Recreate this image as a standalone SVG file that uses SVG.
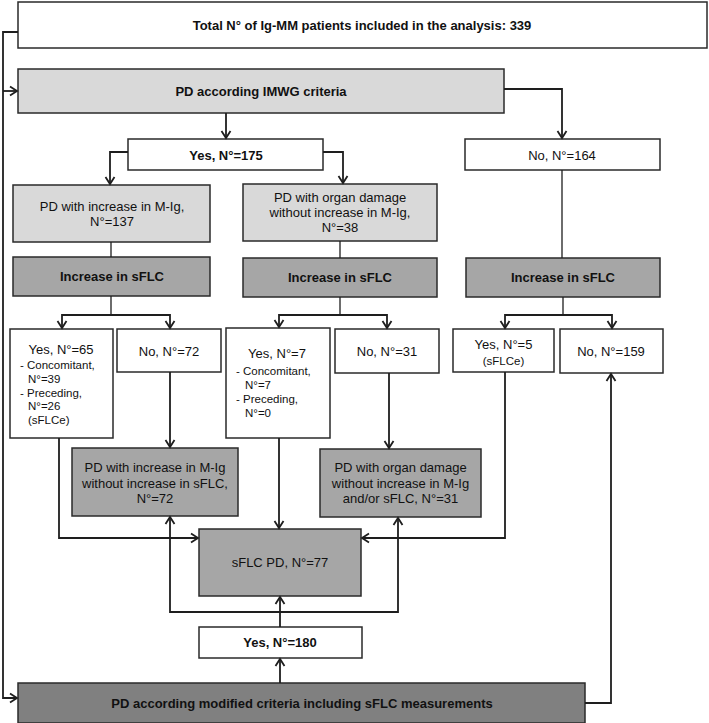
<svg xmlns="http://www.w3.org/2000/svg" width="709" height="723" viewBox="0 0 709 723">
<style>
  .box { stroke: #2a2a2a; stroke-width: 1.5; }
  .w { fill: #ffffff; }
  .l { fill: #d9d9d9; }
  .m { fill: #a6a6a6; }
  .d { fill: #808080; }
  text { font-family: "Liberation Sans", Arial, sans-serif; font-size: 13px; fill: #111; }
  .b { font-weight: bold; }
  .c { text-anchor: middle; }
  .s { font-size: 11.5px; }
  .conn path { fill: none; stroke: #1e1e1e; stroke-width: 1.8; }
  .conn path.thin { stroke-width: 1.3; }
</style>
<defs>
  <marker id="arr" markerUnits="userSpaceOnUse" markerWidth="14" markerHeight="14" viewBox="-10 -7 12 14" refX="0" refY="0" orient="auto">
    <path d="M-7,-4.5 L0,0 L-7,4.5" fill="none" stroke="#1e1e1e" stroke-width="1.8"/>
  </marker>
</defs>

<g id="total">
  <rect class="box w" x="18" y="2" width="689" height="46"/>
  <text class="b c" x="362" y="30">Total N° of Ig-MM patients included in the analysis: 339</text>
</g>
<g id="imwg">
  <rect class="box l" x="18" y="69" width="486" height="44"/>
  <text class="b c" x="261" y="96">PD according IMWG criteria</text>
</g>
<g id="yes175">
  <rect class="box w" x="128" y="139" width="195" height="31"/>
  <text class="b c" x="226" y="159.5">Yes, N°=175</text>
</g>
<g id="no164">
  <rect class="box w" x="465" y="139" width="195" height="31"/>
  <text class="c" x="562" y="159.5">No, N°=164</text>
</g>
<g id="pdmig">
  <rect class="box l" x="13" y="185" width="197" height="57"/>
  <text class="c" x="112" y="211">PD with increase in M-Ig,</text>
  <text class="c" x="112" y="226">N°=137</text>
</g>
<g id="pdorgan">
  <rect class="box l" x="243" y="184" width="194" height="57"/>
  <text class="c" x="340" y="202">PD with organ damage</text>
  <text class="c" x="340" y="217">without increase in M-Ig,</text>
  <text class="c" x="340" y="232">N°=38</text>
</g>
<g id="inc1">
  <rect class="box m" x="13" y="257" width="197" height="39"/>
  <text class="b c" x="112" y="281">Increase in sFLC</text>
</g>
<g id="inc2">
  <rect class="box m" x="243" y="258" width="194" height="39"/>
  <text class="b c" x="340" y="282">Increase in sFLC</text>
</g>
<g id="inc3">
  <rect class="box m" x="466" y="258" width="194" height="39"/>
  <text class="b c" x="563" y="282">Increase in sFLC</text>
</g>
<g id="yes65">
  <rect class="box w" x="10" y="329" width="103" height="109"/>
  <text class="c" x="61" y="354">Yes, N°=65</text>
  <text class="s" x="20" y="369">- Concomitant,</text>
  <text class="s" x="28" y="382.5">N°=39</text>
  <text class="s" x="20" y="396.5">- Preceding,</text>
  <text class="s" x="28" y="410">N°=26</text>
  <text class="s" x="28" y="424">(sFLCe)</text>
</g>
<g id="no72">
  <rect class="box w" x="117" y="329" width="104" height="43"/>
  <text class="c" x="169" y="356">No, N°=72</text>
</g>
<g id="yes7">
  <rect class="box w" x="226" y="328" width="104" height="110"/>
  <text class="c" x="277" y="358">Yes, N°=7</text>
  <text class="s" x="236" y="375">- Concomitant,</text>
  <text class="s" x="245" y="388.5">N°=7</text>
  <text class="s" x="236" y="403">- Preceding,</text>
  <text class="s" x="245" y="417">N°=0</text>
</g>
<g id="no31">
  <rect class="box w" x="335" y="329" width="104" height="44"/>
  <text class="c" x="387" y="356">No, N°=31</text>
</g>
<g id="yes5">
  <rect class="box w" x="453" y="329" width="101" height="43"/>
  <text class="c" x="503.5" y="349">Yes, N°=5</text>
  <text class="c s" x="503.5" y="365">(sFLCe)</text>
</g>
<g id="no159">
  <rect class="box w" x="560" y="329" width="103" height="44"/>
  <text class="c" x="611" y="356">No, N°=159</text>
</g>
<g id="pdmig2">
  <rect class="box m" x="72" y="448" width="166" height="68"/>
  <text class="c" x="155" y="472">PD with increase in M-Ig</text>
  <text class="c" x="155" y="487.5">without increase in sFLC,</text>
  <text class="c" x="155" y="503">N°=72</text>
</g>
<g id="pdorgan2">
  <rect class="box m" x="320" y="449" width="161" height="68"/>
  <text class="c" x="400.5" y="472">PD with organ damage</text>
  <text class="c" x="400.5" y="487.5">without increase in M-Ig</text>
  <text class="c" x="400.5" y="503">and/or sFLC, N°=31</text>
</g>
<g id="sflcpd">
  <rect class="box m" x="199" y="529" width="162" height="67"/>
  <text class="c" x="280" y="567">sFLC PD, N°=77</text>
</g>
<g id="yes180">
  <rect class="box w" x="199" y="627" width="163" height="31"/>
  <text class="b c" x="280" y="647">Yes, N°=180</text>
</g>
<g id="modified">
  <rect class="box d" x="18" y="683" width="567" height="40"/>
  <text class="b c" x="302" y="708">PD according modified criteria including sFLC measurements</text>
</g>

<g id="connectors" class="conn">
  <path d="M18,32 H3 V698 H17" marker-end="url(#arr)"/>
  <path d="M3,91 H17" marker-end="url(#arr)"/>
  <path d="M226,113 V138" marker-end="url(#arr)"/>
  <path d="M504,89 H562 V138" marker-end="url(#arr)"/>
  <path d="M128,152 H110 V184" marker-end="url(#arr)"/>
  <path d="M323,152 H343 V183" marker-end="url(#arr)"/>
  <path class="thin" d="M111,242 V257"/>
  <path class="thin" d="M340,241 V258"/>
  <path class="thin" d="M562,170 V258"/>
  <path class="thin" d="M111,296 V315"/>
  <path d="M111,315 H62 V328" marker-end="url(#arr)"/>
  <path d="M111,315 H170 V328" marker-end="url(#arr)"/>
  <path class="thin" d="M340,297 V315"/>
  <path d="M340,315 H279 V327" marker-end="url(#arr)"/>
  <path d="M340,315 H387 V328" marker-end="url(#arr)"/>
  <path class="thin" d="M563,297 V315"/>
  <path d="M563,315 H505 V328" marker-end="url(#arr)"/>
  <path d="M563,315 H612 V328" marker-end="url(#arr)"/>
  <path d="M170,372 V447" marker-end="url(#arr)"/>
  <path d="M389,373 V448" marker-end="url(#arr)"/>
  <path d="M59,438 V538 H198" marker-end="url(#arr)"/>
  <path d="M279,438 V528" marker-end="url(#arr)"/>
  <path d="M505,372 V538 H362" marker-end="url(#arr)"/>
  <path d="M280,683 V659" marker-end="url(#arr)"/>
  <path d="M280,627 V597" marker-end="url(#arr)"/>
  <path d="M280,612 H170 V517" marker-end="url(#arr)"/>
  <path d="M280,612 H398 V518" marker-end="url(#arr)"/>
  <path d="M585,703 H611 V374" marker-end="url(#arr)"/>
</g>
</svg>
